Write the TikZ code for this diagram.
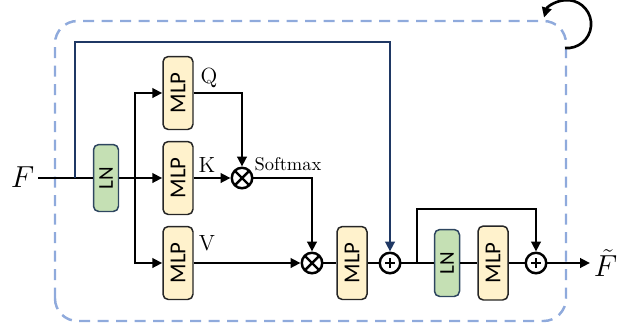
\documentclass[tikz,border=0pt]{standalone}
\usepackage{amsmath}
\usepackage{fontspec}
\newfontfamily\boxfont{Carlito}
\usetikzlibrary{positioning,arrows.meta,calc}
\definecolor{navy}{HTML}{1F3864}
\definecolor{dashBlue}{HTML}{8FAADC}
\definecolor{mlpFill}{HTML}{FFF2CC}
\definecolor{lnFill}{HTML}{C5E0B4}
\definecolor{lnDraw}{HTML}{2E4660}

\begin{document}
\begin{tikzpicture}[x=0.02cm, y=0.02cm,
    mlpNode/.style={rectangle, rounded corners=3pt, draw=black!85, fill=mlpFill, line width=0.85pt, rotate=90, minimum width=1.46cm, minimum height=0.6cm, inner sep=0pt, font=\fontsize{13}{15}\selectfont\boxfont},
    lnNode/.style={rectangle, rounded corners=3pt, draw=lnDraw, fill=lnFill, line width=0.85pt, rotate=90, minimum width=1.34cm, minimum height=0.5cm, inner sep=0pt, font=\fontsize{12}{14}\selectfont\boxfont},
    opNode/.style={circle, draw=black, fill=white, line width=1.4pt, minimum size=0.41cm, inner sep=0pt},
    mulNode/.style={opNode, path picture={\draw[line width=1.4pt] (path picture bounding box.north west) -- (path picture bounding box.south east) (path picture bounding box.north east) -- (path picture bounding box.south west);}},
    plusNode/.style={opNode, path picture={\draw[line width=1pt] ([xshift=-0.1cm]path picture bounding box.center) -- ([xshift=0.1cm]path picture bounding box.center) ([yshift=-0.1cm]path picture bounding box.center) -- ([yshift=0.1cm]path picture bounding box.center);}},
    tagText/.style={inner sep=0pt, font=\fontsize{12.5}{14}\selectfont},
    flowLine/.style={line width=1.5pt, draw=black},
    arrowFlow/.style={flowLine, -{Triangle[length=0.2cm, width=0.19cm]}},
    arrowSkip/.style={line width=1.5pt, draw=navy, -{Triangle[length=0.2cm, width=0.19cm]}},
    dashBox/.style={draw=dashBlue, line width=1.4pt, dash pattern=on 0.22cm off 0.15cm, rounded corners=0.45cm}
]
    \useasboundingbox (0,0) rectangle (621,326);
    \draw[dashBox] (55,5) rectangle (566,305);

    \node[inner sep=2pt, anchor=east, font=\fontsize{16}{18}\selectfont] (fIn) at (38,149) {$F$};
    \node[lnNode] (lnA) at (106,148) {LN};
    \node[mlpNode] (mlpQ) at (178,233) {MLP};
    \node[mlpNode] (mlpK) at (178,148) {MLP};
    \node[mlpNode] (mlpV) at (178,63) {MLP};
    \node[tagText] (labQ) at (209,248) {Q};
    \node[tagText] (labK) at (207,161) {K};
    \node[tagText] (labV) at (207,83) {V};
    \node[mulNode] (mulA) at (242,148) {};
    \node[inner sep=0pt, font=\fontsize{10.5}{12}\selectfont] (labSoft) at (288,162) {Softmax};
    \node[mulNode] (mulB) at (312,63) {};
    \node[mlpNode] (mlpC) at (352,63) {MLP};
    \node[plusNode] (plusA) at (390,63) {};
    \node[lnNode] (lnB) at (447,63) {LN};
    \node[mlpNode, minimum width=1.48cm] (mlpD) at (493,63) {MLP};
    \node[plusNode] (plusB) at (536,63) {};
    \node[inner sep=2pt, anchor=west, font=\fontsize{16}{18}\selectfont] (fOut) at (590,63) {$\tilde{F}$};

    \coordinate (fTail) at (38,148);
    \coordinate (tapIn) at (75,148);
    \coordinate (navyTop) at (75,284);
    \coordinate (splitA) at (135,148);
    \coordinate (splitB) at (417,63);
    \coordinate (skipTop) at (417,117);
    \coordinate (loopStart) at (565,278);

    \draw[flowLine] (fTail) -- (lnA);
    \draw[arrowSkip] (tapIn) -- (navyTop) -| (plusA);
    \draw[arrowFlow] (lnA) -- (mlpK);
    \draw[arrowFlow] (splitA) |- (mlpQ);
    \draw[arrowFlow] (splitA) |- (mlpV);
    \draw[arrowFlow] (mlpQ) -| (mulA);
    \draw[arrowFlow] (mlpK) -- (mulA);
    \draw[arrowFlow] (mulA) -| (mulB);
    \draw[arrowFlow] (mlpV) -- (mulB);
    \draw[flowLine] (mulB) -- (mlpC);
    \draw[flowLine] (mlpC) -- (plusA);
    \draw[flowLine] (plusA) -- (lnB);
    \draw[flowLine] (lnB) -- (mlpD);
    \draw[flowLine] (mlpD) -- (plusB);
    \draw[arrowFlow] (splitB) -- (skipTop) -| (plusB);
    \draw[arrowFlow] (plusB) -- (fOut.west);
    \draw[arrowFlow] (loopStart) arc[start angle=-95, end angle=164, radius=0.48cm];
\end{tikzpicture}
\end{document}
